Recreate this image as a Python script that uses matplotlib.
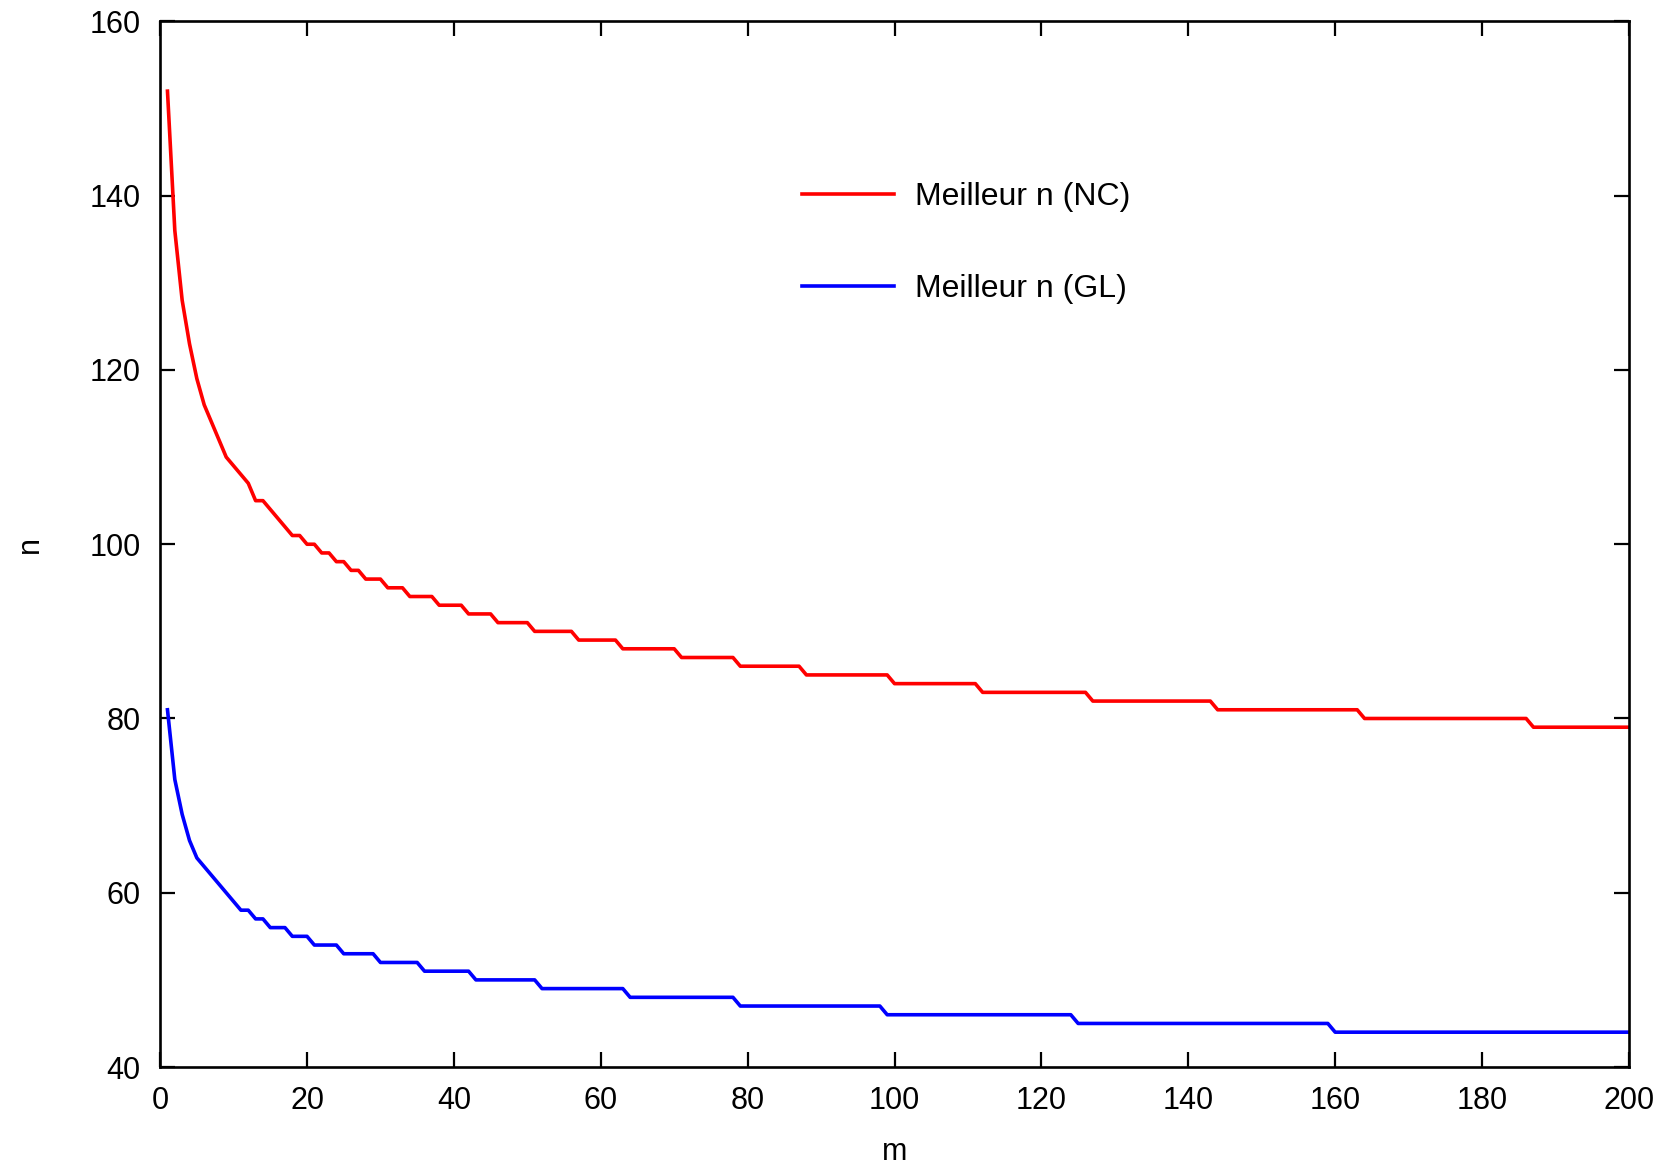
import matplotlib
matplotlib.use("Agg")
import matplotlib.pyplot as plt

plt.rcParams['font.family'] = ['Liberation Sans', 'DejaVu Sans']

m_values = list(range(1, 201))

best_n_nc = [
    152, 136, 128, 123, 119, 116, 114, 112, 110, 109,
    108, 107, 105, 105, 104, 103, 102, 101, 101, 100,
    100, 99, 99, 98, 98, 97, 97, 96, 96, 96,
    95, 95, 95, 94, 94, 94, 94, 93, 93, 93,
    93, 92, 92, 92, 92, 91, 91, 91, 91, 91,
    90, 90, 90, 90, 90, 90, 89, 89, 89, 89,
    89, 89, 88, 88, 88, 88, 88, 88, 88, 88,
    87, 87, 87, 87, 87, 87, 87, 87, 86, 86,
    86, 86, 86, 86, 86, 86, 86, 85, 85, 85,
    85, 85, 85, 85, 85, 85, 85, 85, 85, 84,
    84, 84, 84, 84, 84, 84, 84, 84, 84, 84,
    84, 83, 83, 83, 83, 83, 83, 83, 83, 83,
    83, 83, 83, 83, 83, 83, 82, 82, 82, 82,
    82, 82, 82, 82, 82, 82, 82, 82, 82, 82,
    82, 82, 82, 81, 81, 81, 81, 81, 81, 81,
    81, 81, 81, 81, 81, 81, 81, 81, 81, 81,
    81, 81, 81, 80, 80, 80, 80, 80, 80, 80,
    80, 80, 80, 80, 80, 80, 80, 80, 80, 80,
    80, 80, 80, 80, 80, 80, 79, 79, 79, 79,
    79, 79, 79, 79, 79, 79, 79, 79, 79, 79,
]

best_n_gl = [
    81, 73, 69, 66, 64, 63, 62, 61, 60, 59,
    58, 58, 57, 57, 56, 56, 56, 55, 55, 55,
    54, 54, 54, 54, 53, 53, 53, 53, 53, 52,
    52, 52, 52, 52, 52, 51, 51, 51, 51, 51,
    51, 51, 50, 50, 50, 50, 50, 50, 50, 50,
    50, 49, 49, 49, 49, 49, 49, 49, 49, 49,
    49, 49, 49, 48, 48, 48, 48, 48, 48, 48,
    48, 48, 48, 48, 48, 48, 48, 48, 47, 47,
    47, 47, 47, 47, 47, 47, 47, 47, 47, 47,
    47, 47, 47, 47, 47, 47, 47, 47, 46, 46,
    46, 46, 46, 46, 46, 46, 46, 46, 46, 46,
    46, 46, 46, 46, 46, 46, 46, 46, 46, 46,
    46, 46, 46, 46, 45, 45, 45, 45, 45, 45,
    45, 45, 45, 45, 45, 45, 45, 45, 45, 45,
    45, 45, 45, 45, 45, 45, 45, 45, 45, 45,
    45, 45, 45, 45, 45, 45, 45, 45, 45, 44,
    44, 44, 44, 44, 44, 44, 44, 44, 44, 44,
    44, 44, 44, 44, 44, 44, 44, 44, 44, 44,
    44, 44, 44, 44, 44, 44, 44, 44, 44, 44,
    44, 44, 44, 44, 44, 44, 44, 44, 44, 44,
]

series_labels = ["Meilleur n (NC)", "Meilleur n (GL)"]
x_ticks = list(range(0, 201, 20))
y_ticks = list(range(40, 161, 20))

fig = plt.figure(figsize=(16.75, 11.65), dpi=100)
ax = fig.add_axes([0.0956, 0.0841, 0.8769, 0.8975])

ax.plot(m_values, best_n_nc, color='#ff0000', lw=2.6, label=series_labels[0])
ax.plot(m_values, best_n_gl, color='#0000ff', lw=2.6, label=series_labels[1])

ax.set_xlim(0, 200)
ax.set_ylim(40, 160)
ax.set_xticks(x_ticks)
ax.set_yticks(y_ticks)
ax.tick_params(direction='in', length=11, width=1.6, labelsize=22,
               top=True, right=True, pad=14, colors='black')
ax.tick_params(axis='x', pad=14)
for sp in ax.spines.values():
    sp.set_linewidth(1.9)

ax.set_xlabel('m', fontsize=22, labelpad=15)
ax.set_ylabel('n', fontsize=22, labelpad=32)

leg = ax.legend(loc='upper left', bbox_to_anchor=(0.437, 0.846), frameon=False,
                fontsize=23, handlelength=2.88, handletextpad=0.66,
                labelspacing=1.92, borderpad=0, borderaxespad=0)

fig.savefig('out.png', dpi=100)
